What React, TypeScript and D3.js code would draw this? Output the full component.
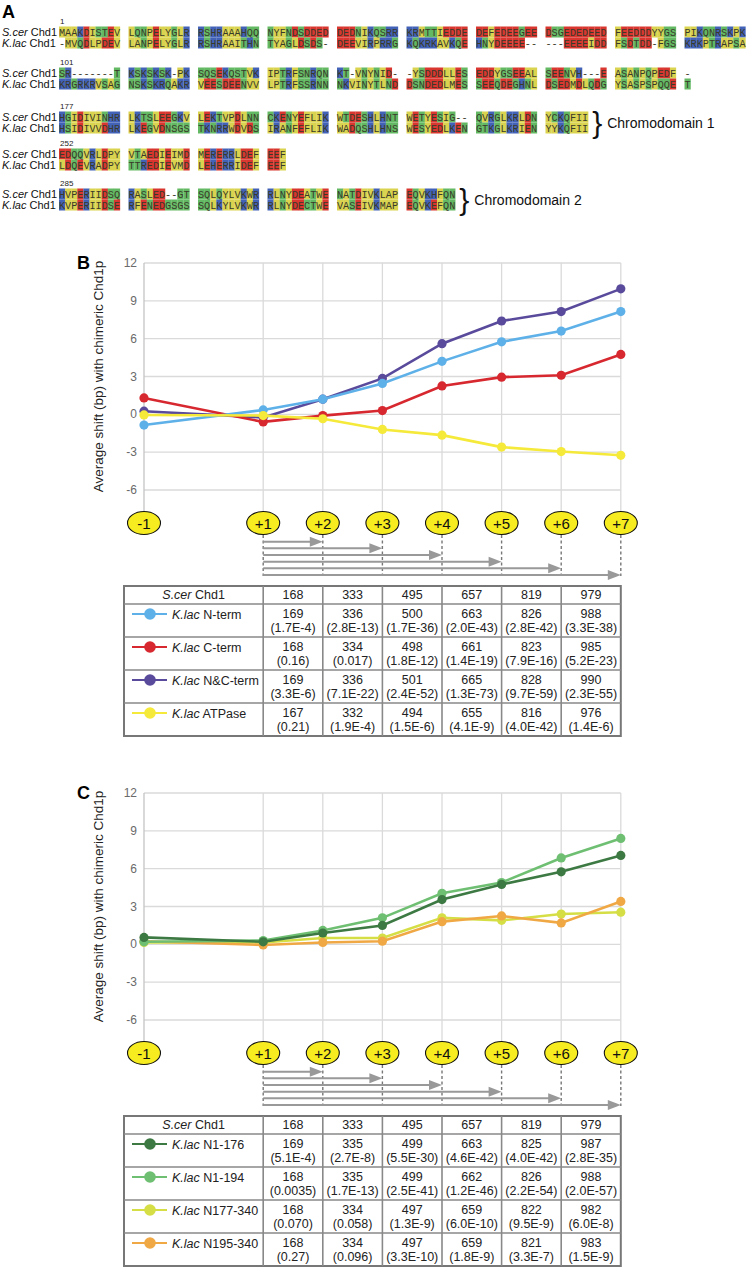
import React from "react";
import * as d3 from "d3";

// ---------- Panel A data ----------
const alnStarts = ["1", "101", "177", "252", "285"];
const scerSeq = [
  "MAAKDISTEV LQNPELYGLR RSHRAAAHQQ NYFNDSDDED DEDNIKQSRR KRMTTIEDDE DEFEDEEGEE DSGEDEDEED FEEDDDYYGS PIKQNRSKPK",
  "SR-------T KSKSKSK-PK SQSEKQSTVK IPTRFSNRQN KT-VNYNID- -YSDDDLLES EDDYGSEEAL SEENVH---E ASANPQPEDF -",
  "HGIDIVINHR LKTSLEEGKV LEKTVPDLNN CKENYEFLIK WTDESHLHNT WETYESIG-- QVRGLKRLDN YCKQFII",
  "EDQQVRLDPY VTAEDIEIMD MERERRLDEF EEF",
  "HVPERIIDSQ RASLED--GT SQLQYLVKWR RLNYDEATWE NATDIVKLAP EQVKHFQN",
];
const klacSeq = [
  "-MVQDLPDEV LANPELYGLR RSHRAAITHN TYAGLDSDS- DEEVIRPRRG KQKRKAVKQE HNYDEEEE-- ---EEEEIDD FSDTDD-FGS KRKPTRAPSA",
  "KRGRKRVSAG NSKSKRQAKR VEESDEENVV LPTRFSSRNN NKVINYTLND DSNDEDLMES SEEQDEGHNL DSEDMDLQDG YSASPSPQQE T",
  "HSIDIVVDHR LKEGVDNSGS TKNRRWDVDS IRANFEFLIK WADQSHLHNS WESYEDLKEN GTKGLKRIEN YYKQFII",
  "LDQEVRADPY TTREDIEVMD LEHERRIDEF EEF",
  "KVPERIIDSE RFENEDGSGS SQLKYLVKWR RLNYDECTWE VASEIVKMAP EQVKEFQN",
];
const domainLabels = [
  { row: 2, text: "Chromodomain 1" },
  { row: 4, text: "Chromodomain 2" },
];

// ---------- Panels B/C data ----------
const positions = [-1, 1, 2, 3, 4, 5, 6, 7];
const positionLabels = ["-1", "+1", "+2", "+3", "+4", "+5", "+6", "+7"];
const yTicks = [12, 9, 6, 3, 0, -3, -6];
const scerSizes = ["168", "333", "495", "657", "819", "979"];

// Panel B
const bNames = ["N-term", "C-term", "N&C-term", "ATPase"];
const bNterm = [-0.85, 0.35, 1.2, 2.45, 4.2, 5.75, 6.6, 8.15];
const bCterm = [1.3, -0.6, -0.1, 0.3, 2.25, 2.95, 3.1, 4.75];
const bNCterm = [0.25, -0.25, 1.2, 2.85, 5.6, 7.4, 8.15, 9.95];
const bATPase = [-0.05, -0.1, -0.35, -1.2, -1.65, -2.6, -2.95, -3.25];
const bSizes = [
  ["169", "336", "500", "663", "826", "988"],
  ["168", "334", "498", "661", "823", "985"],
  ["169", "336", "501", "665", "828", "990"],
  ["167", "332", "494", "655", "816", "976"],
];
const bPvals = [
  ["1.7E-4", "2.8E-13", "1.7E-36", "2.0E-43", "2.8E-42", "3.3E-38"],
  ["0.16", "0.017", "1.8E-12", "1.4E-19", "7.9E-16", "5.2E-23"],
  ["3.3E-6", "7.1E-22", "2.4E-52", "1.3E-73", "9.7E-59", "2.3E-55"],
  ["0.21", "1.9E-4", "1.5E-6", "4.1E-9", "4.0E-42", "1.4E-6"],
];
const bColors = ["#5eb1e8", "#d7282f", "#5a4a9c", "#f5e93a"];
const bDrawOrder = [2, 1, 0, 3];

// Panel C
const cNames = ["N1-176", "N1-194", "N177-340", "N195-340"];
const cN1_176 = [0.55, 0.2, 0.9, 1.5, 3.55, 4.75, 5.75, 7.05];
const cN1_194 = [0.2, 0.3, 1.1, 2.1, 4.05, 4.9, 6.85, 8.4];
const cN177_340 = [0.15, 0.15, 0.5, 0.5, 2.1, 1.9, 2.4, 2.55];
const cN195_340 = [0.25, -0.05, 0.15, 0.25, 1.8, 2.25, 1.7, 3.4];
const cSizes = [
  ["169", "335", "499", "663", "825", "987"],
  ["168", "335", "499", "662", "826", "988"],
  ["168", "334", "497", "659", "822", "982"],
  ["168", "334", "497", "659", "821", "983"],
];
const cPvals = [
  ["5.1E-4", "2.7E-8", "5.5E-30", "4.6E-42", "4.0E-42", "2.8E-35"],
  ["0.0035", "1.7E-13", "2.5E-41", "1.2E-46", "2.2E-54", "2.0E-57"],
  ["0.070", "0.058", "1.3E-9", "6.0E-10", "9.5E-9", "6.0E-8"],
  ["0.27", "0.096", "3.3E-10", "1.8E-9", "3.3E-7", "1.5E-9"],
];
const cColors = ["#3d7a43", "#6fbf73", "#d5df45", "#f0a845"];
const cDrawOrder = [2, 3, 1, 0];

const SANS = "'Liberation Sans', Arial, Helvetica, sans-serif";
const MONO = "'Liberation Mono', 'Courier New', monospace";

function resColor(c: string): string | null {
  if ("DE".includes(c)) return "#d8362f";
  if ("KRH".includes(c)) return "#4262b8";
  if ("AVLIMFWPY".includes(c)) return "#d9d34f";
  if ("STNQCG".includes(c)) return "#63b963";
  return null;
}

function PanelA() {
  const x0 = 59;
  const cw = 6.1;
  const pitch = 69.5;
  const centers = [32, 73, 117, 154, 194];
  const ch = 11;
  const els: any[] = [];
  centers.forEach((cy, r) => {
    els.push(
      <text key={"n" + r} x={x0 + 1} y={cy - 8} fontSize={8} fontFamily={SANS} fill="#222">
        {alnStarts[r]}
      </text>
    );
    [scerSeq[r], klacSeq[r]].forEach((seq, s) => {
      const yc = cy + s * ch;
      els.push(
        <text key={`lab${r}-${s}`} x={2} y={yc + 4} fontSize={11} fontFamily={SANS} fill="#111">
          <tspan fontStyle="italic">{s === 0 ? "S.cer" : "K.lac"}</tspan>
          <tspan> Chd1</tspan>
        </text>
      );
      seq.split(" ").forEach((block, b) => {
        block.split("").forEach((c, i) => {
          const xx = x0 + b * pitch + i * cw;
          const col = resColor(c);
          if (col)
            els.push(
              <rect key={`r${r}-${s}-${b}-${i}`} x={xx} y={yc - ch / 2} width={cw + 0.15} height={ch} fill={col} />
            );
          els.push(
            <text
              key={`t${r}-${s}-${b}-${i}`}
              x={xx + cw / 2}
              y={yc + 3.6}
              fontSize={10.2}
              fontFamily={MONO}
              textAnchor="middle"
              fill="#3a3a2a"
            >
              {c}
            </text>
          );
        });
      });
    });
  });
  domainLabels.forEach((d, k) => {
    const cy = centers[d.row] + ch / 2;
    const lastBlocks = scerSeq[d.row].split(" ");
    const endX = x0 + (lastBlocks.length - 1) * pitch + lastBlocks[lastBlocks.length - 1].length * cw;
    els.push(
      <text key={"br" + k} x={endX + 4} y={cy + 10} fontSize={30} fontFamily={SANS} fill="#111">
        {"}"}
      </text>
    );
    els.push(
      <text key={"dl" + k} x={endX + 19} y={cy + 5} fontSize={14} fontFamily={SANS} fill="#111">
        {d.text}
      </text>
    );
  });
  return (
    <g>
      <text x={2} y={18} fontSize={18} fontWeight="bold" fontFamily={SANS}>
        A
      </text>
      {els}
    </g>
  );
}

function ChartPanel({
  dy,
  label,
  names,
  series,
  colors,
  order,
  sizes,
  pvals,
}: {
  dy: number;
  label: string;
  names: string[];
  series: number[][];
  colors: string[];
  order: number[];
  sizes: string[][];
  pvals: string[][];
}) {
  const x = d3.scaleLinear().domain([-1, 7]).range([144, 620.8]);
  const y = d3.scaleLinear().domain([-6, 12]).range([490 + dy, 263 + dy]);
  const line = d3
    .line<number>()
    .x((_, i) => x(positions[i]))
    .y((d) => y(d));
  const ovalY = 523 + dy;
  const arrowYs = [541.7, 548.3, 555, 561.7, 568.3, 575].map((v) => v + dy);
  const tableTop = 586 + dy;
  const headerH = 18;
  const rowH = 33;
  const left = x(-1) - 20;
  const colEdges = [left, ...positions.slice(1).map((p) => x(p))];
  const tableBottom = tableTop + headerH + rowH * 4;
  const midY = (y(12) + y(-6)) / 2;
  return (
    <g>
      <text x={77} y={269 + dy} fontSize={18} fontWeight="bold" fontFamily={SANS}>
        {label}
      </text>
      {yTicks.map((t) => (
        <line key={"h" + t} x1={x(-1)} x2={x(7)} y1={y(t)} y2={y(t)} stroke="#dadada" strokeWidth={1.3} />
      ))}
      {positions.map((p) => (
        <line
          key={"v" + p}
          x1={x(p)}
          x2={x(p)}
          y1={y(12)}
          y2={ovalY - 12}
          stroke={p === -1 ? "#c4c4c4" : "#dadada"}
          strokeWidth={1.3}
        />
      ))}
      {yTicks.map((t) => (
        <text
          key={"tl" + t}
          x={x(-1) - 7}
          y={y(t) + 4}
          textAnchor="end"
          fontSize={12}
          fontFamily={SANS}
          fill="#6a6a6a"
        >
          {t}
        </text>
      ))}
      <text
        transform={`translate(103,${midY}) rotate(-90)`}
        textAnchor="middle"
        fontSize={13.5}
        fontFamily={SANS}
        fill="#222"
      >
        Average shift (bp) with chimeric Chd1p
      </text>
      {order.map((si) => (
        <g key={"s" + si}>
          <path d={line(series[si]) || ""} fill="none" stroke={colors[si]} strokeWidth={2.6} />
          {series[si].map((v, i) => (
            <circle key={i} cx={x(positions[i])} cy={y(v)} r={4.6} fill={colors[si]} />
          ))}
        </g>
      ))}
      {positions.map((p, i) => (
        <g key={"o" + p}>
          <ellipse cx={x(p)} cy={ovalY} rx={16.5} ry={11.5} fill="#f6ec1f" stroke="#111" strokeWidth={1.1} />
          <text x={x(p)} y={ovalY + 5.5} textAnchor="middle" fontSize={15} fontFamily={SANS} fill="#111">
            {positionLabels[i]}
          </text>
        </g>
      ))}
      {positions.slice(1).map((p) => (
        <line
          key={"d" + p}
          x1={x(p)}
          x2={x(p)}
          y1={ovalY + 12}
          y2={arrowYs[5] + 1}
          stroke="#777"
          strokeWidth={1.4}
          strokeDasharray="3,2.5"
        />
      ))}
      {positions.slice(2).map((p, k) => {
        const ay = arrowYs[k];
        const x1 = x(1);
        const x2 = x(p);
        return (
          <g key={"a" + p}>
            <line x1={x1} x2={x2 - 12} y1={ay} y2={ay} stroke="#999" strokeWidth={2} />
            <path d={`M${x2},${ay} L${x2 - 13},${ay - 5} L${x2 - 13},${ay + 5} Z`} fill="#999" />
          </g>
        );
      })}
      <rect x={left} y={tableTop} width={x(7) - left} height={tableBottom - tableTop} fill="#fff" stroke="#777" strokeWidth={2} />
      {[0, 1, 2, 3].map((r) => (
        <line
          key={"rl" + r}
          x1={left}
          x2={x(7)}
          y1={tableTop + headerH + r * rowH}
          y2={tableTop + headerH + r * rowH}
          stroke="#888"
          strokeWidth={1.6}
        />
      ))}
      {colEdges.slice(1, -1).map((cx, k) => (
        <line key={"cl" + k} x1={cx} x2={cx} y1={tableTop} y2={tableBottom} stroke="#888" strokeWidth={1.6} />
      ))}
      <text
        x={(colEdges[0] + colEdges[1]) / 2}
        y={tableTop + 13}
        textAnchor="middle"
        fontSize={12.5}
        fontFamily={SANS}
        fill="#222"
      >
        <tspan fontStyle="italic">S.cer</tspan>
        <tspan> Chd1</tspan>
      </text>
      {scerSizes.map((s, c) => (
        <text
          key={"hs" + c}
          x={(colEdges[c + 1] + colEdges[c + 2]) / 2}
          y={tableTop + 13}
          textAnchor="middle"
          fontSize={12.5}
          fontFamily={SANS}
          fill="#222"
        >
          {s}
        </text>
      ))}
      {names.map((nm, r) => {
        const top = tableTop + headerH + r * rowH;
        return (
          <g key={"row" + r}>
            <line x1={left + 8} x2={left + 43} y1={top + 10} y2={top + 10} stroke={colors[r]} strokeWidth={1.8} />
            <circle cx={left + 26} cy={top + 10} r={5.8} fill={colors[r]} />
            <text x={left + 48} y={top + 14.5} fontSize={12.5} fontFamily={SANS} fill="#222">
              <tspan fontStyle="italic">K.lac</tspan>
              <tspan> {nm}</tspan>
            </text>
            {sizes[r].map((s, c) => {
              const cx = (colEdges[c + 1] + colEdges[c + 2]) / 2;
              return (
                <g key={"c" + c}>
                  <text x={cx} y={top + 14} textAnchor="middle" fontSize={12.5} fontFamily={SANS} fill="#222">
                    {s}
                  </text>
                  <text x={cx} y={top + 27.5} textAnchor="middle" fontSize={12.5} fontFamily={SANS} fill="#222">
                    ({pvals[r][c]})
                  </text>
                </g>
              );
            })}
          </g>
        );
      })}
    </g>
  );
}

export default function App() {
  return (
    <svg
      width={750}
      height={1269}
      viewBox="0 0 750 1269"
      style={{ position: "absolute", left: 0, top: 0, background: "#fff" }}
    >
      <rect width={750} height={1269} fill="#fff" />
      <PanelA />
      <ChartPanel
        dy={0}
        label="B"
        names={bNames}
        series={[bNterm, bCterm, bNCterm, bATPase]}
        colors={bColors}
        order={bDrawOrder}
        sizes={bSizes}
        pvals={bPvals}
      />
      <ChartPanel
        dy={530}
        label="C"
        names={cNames}
        series={[cN1_176, cN1_194, cN177_340, cN195_340]}
        colors={cColors}
        order={cDrawOrder}
        sizes={cSizes}
        pvals={cPvals}
      />
    </svg>
  );
}
